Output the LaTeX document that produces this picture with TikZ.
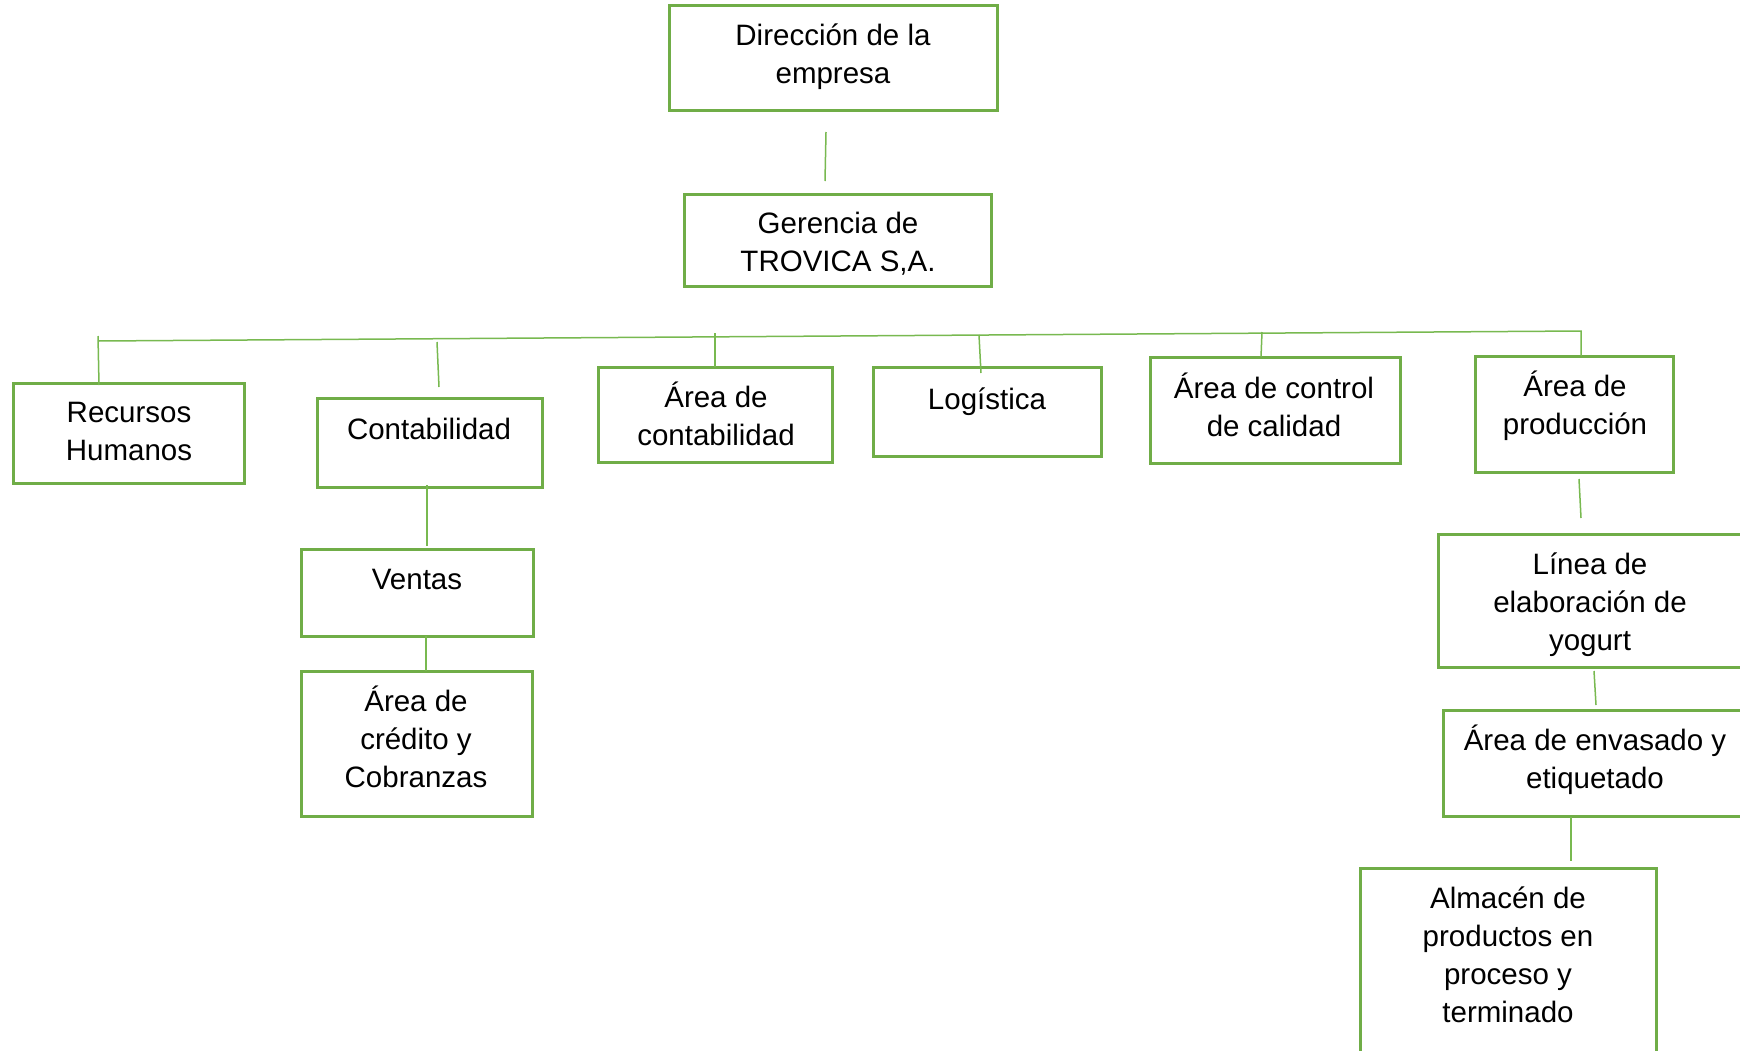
\documentclass[tikz,border=0pt]{standalone}
\usepackage{fontspec}
\setmainfont{Liberation Sans}
\definecolor{boxgreen}{RGB}{112,173,71}
\definecolor{linegreen}{RGB}{120,185,80}
\begin{document}
\begin{tikzpicture}[x=1pt,y=-1pt,
  box/.style={draw=boxgreen,line width=3pt,inner sep=0pt,minimum width=#1},
  lbl/.style={align=center,inner sep=0pt,yshift=-3.5pt,font=\fontsize{29.5}{38}\selectfont},
  conn/.style={draw=linegreen,line width=1.5pt}]
\useasboundingbox (0,0) rectangle (1740,1050);
\clip (0,0) rectangle (1740,1050);
\fill[white] (0,0) rectangle (1740,1050);
% boxes
\node[box=328pt,minimum height=105.5pt] (dir) at (833,58) {};
\node[box=307pt,minimum height=92pt] (ger) at (837.5,240) {};
\node[box=231pt,minimum height=100pt] (rh) at (128.5,433) {};
\node[box=225pt,minimum height=89pt] (cont) at (429.5,442.5) {};
\node[box=234pt,minimum height=95pt] (acont) at (715,414.5) {};
\node[box=228pt,minimum height=89pt] (log) at (987,411.5) {};
\node[box=250pt,minimum height=106pt] (cal) at (1275,410) {};
\node[box=198pt,minimum height=116pt] (prod) at (1574,414) {};
\node[box=307pt,minimum height=133pt] (lin) at (1591.5,600.5) {};
\node[box=302pt,minimum height=106pt] (env) at (1594,763) {};
\node[box=296pt,minimum height=187pt] (alm) at (1508,961.5) {};
\node[box=232pt,minimum height=87pt] (ven) at (417,592.5) {};
\node[box=231pt,minimum height=145pt] (cred) at (416.5,743.5) {};
% texts
\node[lbl] (tdir) at (833,53.5) {\strut Dirección de la\\\strut empresa};
\node[lbl] (tger) at (838,241.5) {\strut Gerencia de\\\strut TROVICA S,A.};
\node[lbl] (trh) at (129,430.5) {\strut Recursos\\\strut Humanos};
\node[lbl] (tcont) at (429,428) {\strut Contabilidad};
\node[lbl] (tacont) at (716,415) {\strut Área de\\\strut contabilidad};
\node[lbl] (tlog) at (987,398) {\strut Logística};
\node[lbl] (tcal) at (1274,406) {\strut Área de control\\\strut de calidad};
\node[lbl] (tprod) at (1575,404) {\strut Área de\\\strut producción};
\node[lbl] (tlin) at (1590,601) {\strut Línea de\\\strut elaboración de\\\strut yogurt};
\node[lbl] (tenv) at (1595,758.5) {\strut Área de envasado y\\\strut etiquetado};
\node[lbl] (talm) at (1508,954) {\strut Almacén de\\\strut productos en\\\strut proceso y\\\strut terminado};
\node[lbl] (tven) at (417,578) {\strut Ventas};
\node[lbl] (tcred) at (416,738.5) {\strut Área de\\\strut crédito y\\\strut Cobranzas};
% connector end points
\coordinate (d1) at (826,132); \coordinate (d2) at (825,181);
\coordinate (busL) at (98,341); \coordinate (busR) at (1581,331);
\coordinate (prodTop) at (1581,356);
\coordinate (rh1) at (98,336); \coordinate (rh2) at (99,385);
\coordinate (co1) at (437,342); \coordinate (co2) at (439,387);
\coordinate (ac1) at (715,333); \coordinate (ac2) at (715,367);
\coordinate (lo1) at (979,335); \coordinate (lo2) at (981,373);
\coordinate (ca1) at (1262,332); \coordinate (ca2) at (1261,357);
\coordinate (cv1) at (427,485); \coordinate (cv2) at (427,546);
\coordinate (vc1) at (426,636); \coordinate (vc2) at (426,671);
\coordinate (pl1) at (1579,479); \coordinate (pl2) at (1581,518);
\coordinate (le1) at (1594,671); \coordinate (le2) at (1596,705);
\coordinate (ea1) at (1571,817); \coordinate (ea2) at (1571,861);
% connectors
\path[conn] (d1) -- (d2);
\path[conn] (busL) -- (busR) -- (prodTop);
\path[conn] (rh1) -- (rh2);
\path[conn] (co1) -- (co2);
\path[conn] (ac1) -- (ac2);
\path[conn] (lo1) -- (lo2);
\path[conn] (ca1) -- (ca2);
\path[conn] (cv1) -- (cv2);
\path[conn] (vc1) -- (vc2);
\path[conn] (pl1) -- (pl2);
\path[conn] (le1) -- (le2);
\path[conn] (ea1) -- (ea2);
\end{tikzpicture}
\end{document}
